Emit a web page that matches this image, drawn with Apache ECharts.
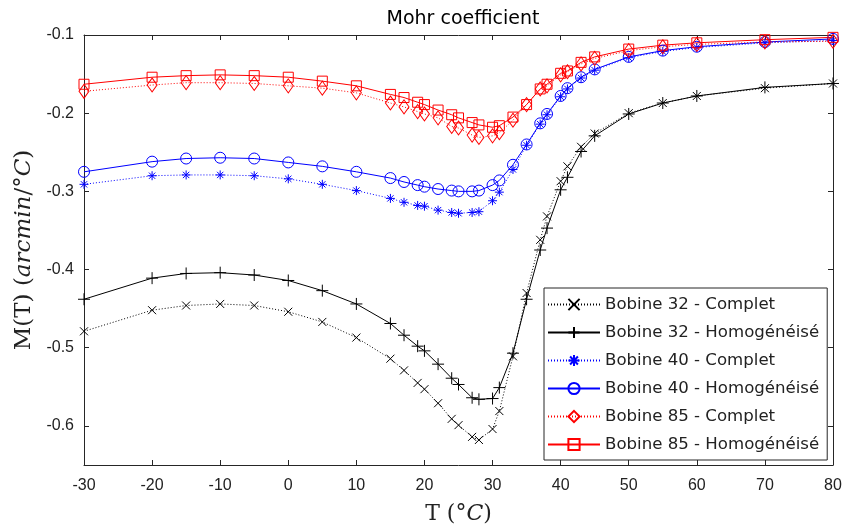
<!DOCTYPE html>
<html>
<head>
<meta charset="utf-8">
<script src="https://cdn.jsdelivr.net/npm/echarts@6.0.0/dist/echarts.min.js"></script>
<style>
  html, body { margin: 0; padding: 0; background: #fff; }
  #chart { width: 845px; height: 526px; }
</style>
</head>
<body>
<div id="chart"></div>
<script>
// temperatures (°C)
var temps = [-30, -20, -15, -10, -5, 0, 5, 10, 15, 17, 19, 20, 22, 24, 25, 27, 28, 30, 31, 33, 35, 37, 38, 40, 41, 43, 45, 50, 55, 60, 70, 80]

// Mohr coefficient values (arcmin/°C)
var b32Complet = [-0.479, -0.452, -0.446, -0.444, -0.446, -0.454, -0.467, -0.487, -0.514, -0.529, -0.545, -0.553, -0.571, -0.591, -0.599, -0.614, -0.618, -0.604, -0.581, -0.511, -0.430, -0.362, -0.332, -0.287, -0.268, -0.243, -0.226, -0.200, -0.187, -0.178, -0.168, -0.162]
var b32Homog = [-0.438, -0.411, -0.405, -0.404, -0.407, -0.414, -0.427, -0.444, -0.469, -0.484, -0.498, -0.504, -0.521, -0.539, -0.547, -0.564, -0.566, -0.565, -0.551, -0.507, -0.438, -0.375, -0.347, -0.298, -0.282, -0.249, -0.229, -0.201, -0.187, -0.178, -0.167, -0.162]
var b40Complet = [-0.291, -0.280, -0.279, -0.279, -0.280, -0.284, -0.291, -0.299, -0.309, -0.314, -0.318, -0.319, -0.324, -0.327, -0.328, -0.327, -0.326, -0.312, -0.301, -0.272, -0.241, -0.214, -0.202, -0.179, -0.169, -0.155, -0.145, -0.129, -0.121, -0.116, -0.110, -0.107]
var b40Homog = [-0.275, -0.262, -0.258, -0.257, -0.258, -0.263, -0.268, -0.275, -0.283, -0.288, -0.292, -0.294, -0.297, -0.299, -0.300, -0.300, -0.299, -0.292, -0.286, -0.266, -0.240, -0.213, -0.201, -0.178, -0.168, -0.154, -0.144, -0.128, -0.120, -0.115, -0.109, -0.105]
var b85Complet = [-0.172, -0.164, -0.161, -0.161, -0.162, -0.165, -0.168, -0.174, -0.187, -0.192, -0.198, -0.201, -0.206, -0.217, -0.219, -0.228, -0.231, -0.229, -0.225, -0.209, -0.189, -0.169, -0.165, -0.151, -0.147, -0.137, -0.130, -0.120, -0.115, -0.112, -0.109, -0.108]
var b85Homog = [-0.163, -0.154, -0.152, -0.151, -0.152, -0.154, -0.159, -0.165, -0.176, -0.180, -0.186, -0.189, -0.196, -0.202, -0.206, -0.212, -0.215, -0.218, -0.216, -0.205, -0.189, -0.169, -0.163, -0.149, -0.146, -0.135, -0.128, -0.118, -0.113, -0.110, -0.106, -0.103]

var yTicks = [-0.6, -0.5, -0.4, -0.3, -0.2, -0.1]

var AXIS = '#262626'
var TICK_FONT = "'Liberation Sans Narrow', 'Liberation Sans', sans-serif"
var LEG_FONT = "'DejaVu Sans', sans-serif"
var MATH_FONT = "'DejaVu Serif', serif"

var SYM_X = 'path://M0,0L10,10M10,0L0,10'
var SYM_PLUS = 'path://M5,0L5,10M0,5L10,5'
var SYM_STAR = 'path://M5,0L5,10M0,5L10,5M1.5,1.5L8.5,8.5M8.5,1.5L1.5,8.5'

function pairs(vals) {
  return temps.map(function (t, i) { return [t, vals[i]] })
}

function makeSeries(name, vals, color, dotted, symbol, size) {
  return {
    name: name,
    type: 'line',
    data: pairs(vals),
    symbol: symbol,
    symbolSize: size,
    showAllSymbol: true,
    lineStyle: { color: color, width: 1, type: dotted ? [1, 2] : 'solid' },
    itemStyle: { color: 'rgba(0,0,0,0)', borderColor: color, borderWidth: 1 },
    emphasis: { disabled: true }
  }
}

var mathRich = function (size) {
  return {
    a: { fontFamily: MATH_FONT, fontSize: size, color: '#222' },
    b: { fontFamily: MATH_FONT, fontStyle: 'italic', fontSize: size, color: '#222' }
  }
}

var chart = echarts.init(document.getElementById('chart'), null, { renderer: 'canvas' })

chart.setOption({
  animation: false,
  backgroundColor: '#fff',
  title: {
    text: 'Mohr coefficient',
    left: 458,
    textAlign: 'center',
    top: 5,
    textStyle: { fontFamily: LEG_FONT, fontSize: 19, fontWeight: 'normal', color: '#000' }
  },
  grid: { left: 84, right: 12, top: 35, bottom: 61, outerBoundsMode: 'none' },
  legend: {
    orient: 'vertical',
    left: 544,
    top: 288,
    padding: [8, 8, 7, 3],
    itemWidth: 52,
    itemHeight: 14,
    itemGap: 11,
    borderColor: AXIS,
    borderWidth: 1,
    backgroundColor: '#fff',
    textStyle: { fontFamily: LEG_FONT, fontSize: 16.6, color: '#222' },
    data: ['Bobine 32 - Complet', 'Bobine 32 - Homogénéisé', 'Bobine 40 - Complet', 'Bobine 40 - Homogénéisé', 'Bobine 85 - Complet', 'Bobine 85 - Homogénéisé']
  },
  xAxis: [{
    type: 'value',
    min: -30,
    max: 80,
    interval: 10,
    name: '{a|T (°}{b|C}{a|)}',
    nameLocation: 'middle',
    nameGap: 38,
    nameTextStyle: { rich: mathRich(22) },
    axisLine: { show: true, onZero: false, lineStyle: { color: AXIS } },
    axisTick: { inside: true, length: 5, lineStyle: { color: AXIS } },
    axisLabel: { margin: 13, fontFamily: TICK_FONT, fontSize: 16, color: '#222' },
    splitLine: { show: false }
  }, {
    type: 'value',
    position: 'top',
    min: -30,
    max: 80,
    interval: 10,
    axisLine: { show: true, onZero: false, lineStyle: { color: AXIS } },
    axisTick: { inside: true, length: 5, lineStyle: { color: AXIS } },
    axisLabel: { show: false },
    splitLine: { show: false }
  }],
  yAxis: [{
    type: 'value',
    min: -0.65,
    max: -0.1,
    name: '{a|M(T) (}{b|arcmin}{a|/°}{b|C}{a|)}',
    nameLocation: 'middle',
    nameGap: 30,
    nameTextStyle: { rich: mathRich(23) },
    axisLine: { show: true, onZero: false, lineStyle: { color: AXIS } },
    axisTick: { inside: true, length: 5, customValues: yTicks, lineStyle: { color: AXIS } },
    axisLabel: { margin: 10, customValues: yTicks, fontFamily: TICK_FONT, fontSize: 16, color: '#222' },
    splitLine: { show: false }
  }, {
    type: 'value',
    position: 'right',
    min: -0.65,
    max: -0.1,
    axisLine: { show: true, onZero: false, lineStyle: { color: AXIS } },
    axisTick: { inside: true, length: 5, customValues: yTicks, lineStyle: { color: AXIS } },
    axisLabel: { show: false },
    splitLine: { show: false }
  }],
  series: [
    makeSeries('Bobine 32 - Complet', b32Complet, '#000', true, SYM_X, 8),
    makeSeries('Bobine 32 - Homogénéisé', b32Homog, '#000', false, SYM_PLUS, 12),
    makeSeries('Bobine 40 - Complet', b40Complet, '#0000ff', true, SYM_STAR, 9),
    makeSeries('Bobine 40 - Homogénéisé', b40Homog, '#0000ff', false, 'circle', 11),
    makeSeries('Bobine 85 - Complet', b85Complet, '#ff0000', true, 'diamond', [10, 14]),
    makeSeries('Bobine 85 - Homogénéisé', b85Homog, '#ff0000', false, 'rect', 10)
  ]
})
</script>
</body>
</html>
